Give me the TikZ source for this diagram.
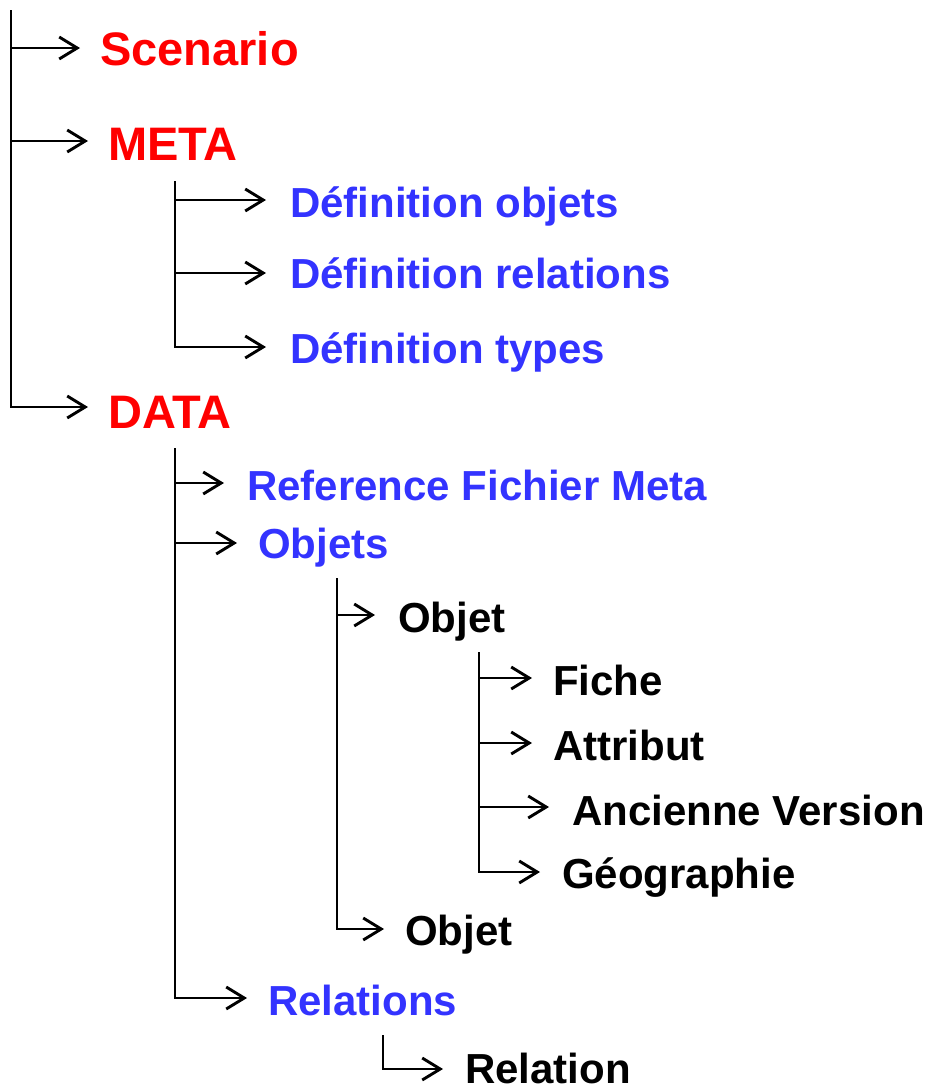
\documentclass[tikz,border=0pt]{standalone}
\usepackage{fontspec}
\setmainfont{Liberation Sans}
\usetikzlibrary{arrows.meta}
\definecolor{lblue}{RGB}{51,51,255}
\definecolor{lred}{RGB}{255,0,0}
\begin{document}
\begin{tikzpicture}[x=1pt,y=-1pt,
  lbl/.style={anchor=base west,inner sep=0pt,font=\bfseries\fontsize{42}{50}\selectfont},
  redlbl/.style={lbl,text=lred,font=\bfseries\fontsize{47}{56}\selectfont},
  bluelbl/.style={lbl,text=lblue},
  blacklbl/.style={lbl,text=black},
  tree/.style={draw=black,line width=2.9pt,line join=miter},
  arr/.style={tree,-{Straight Barb[length=18pt,width=22pt,line width=2.9pt]}}]
\useasboundingbox (0,0) rectangle (932,1087);
% labels
\node[redlbl] (scen) at (100,65) {Scenario};
\node[redlbl] (meta) at (108,160) {META};
\node[bluelbl] (dobj) at (290,217) {Définition objets};
\node[bluelbl] (drel) at (290,288) {Définition relations};
\node[bluelbl] (dtyp) at (290,363) {Définition types};
\node[redlbl] (data) at (108,428) {DATA};
\node[bluelbl] (rfm) at (247,500) {Reference Fichier Meta};
\node[bluelbl] (objs) at (258,558) {Objets};
\node[blacklbl] (obj1) at (398,632) {Objet};
\node[blacklbl] (fich) at (553,695) {Fiche};
\node[blacklbl] (attr) at (553,760) {Attribut};
\node[blacklbl] (anc) at (572,825) {Ancienne Version};
\node[blacklbl] (geo) at (562,888) {Géographie};
\node[blacklbl] (obj2) at (405,945) {Objet};
\node[bluelbl] (rels) at (268,1015) {Relations};
\node[blacklbl] (rel) at (465,1083) {Relation};
% root tree
\coordinate (r0) at (11,10);
\coordinate (rj1) at (11,48);  \coordinate (rt1) at (80,48);
\coordinate (rj2) at (11,141); \coordinate (rt2) at (88,141);
\coordinate (rj3) at (11,407); \coordinate (rt3) at (88,407);
\draw[arr] (rj1) -- (rt1);
\draw[arr] (rj2) -- (rt2);
\draw[arr] (r0) -- (rj3) -- (rt3);
% META tree
\coordinate (m0) at (175,181);
\coordinate (mj1) at (175,200); \coordinate (mt1) at (266,200);
\coordinate (mj2) at (175,273); \coordinate (mt2) at (266,273);
\coordinate (mj3) at (175,347); \coordinate (mt3) at (266,347);
\draw[arr] (mj1) -- (mt1);
\draw[arr] (mj2) -- (mt2);
\draw[arr] (m0) -- (mj3) -- (mt3);
% DATA tree
\coordinate (d0) at (175,448);
\coordinate (dj1) at (175,483); \coordinate (dt1) at (224,483);
\coordinate (dj2) at (175,543); \coordinate (dt2) at (237,543);
\coordinate (dj3) at (175,998); \coordinate (dt3) at (247,998);
\draw[arr] (dj1) -- (dt1);
\draw[arr] (dj2) -- (dt2);
\draw[arr] (d0) -- (dj3) -- (dt3);
% Objets tree
\coordinate (o0) at (337,578);
\coordinate (oj1) at (337,615); \coordinate (ot1) at (375,615);
\coordinate (oj2) at (337,929); \coordinate (ot2) at (384,929);
\draw[arr] (oj1) -- (ot1);
\draw[arr] (o0) -- (oj2) -- (ot2);
% Objet tree
\coordinate (b0) at (479,652);
\coordinate (bj1) at (479,678); \coordinate (bt1) at (532,678);
\coordinate (bj2) at (479,743); \coordinate (bt2) at (532,743);
\coordinate (bj3) at (479,807); \coordinate (bt3) at (549,807);
\coordinate (bj4) at (479,872); \coordinate (bt4) at (540,872);
\draw[arr] (bj1) -- (bt1);
\draw[arr] (bj2) -- (bt2);
\draw[arr] (bj3) -- (bt3);
\draw[arr] (b0) -- (bj4) -- (bt4);
% Relations tree
\coordinate (l0) at (383,1035);
\coordinate (lj1) at (383,1069); \coordinate (lt1) at (443,1069);
\draw[arr] (l0) -- (lj1) -- (lt1);
\end{tikzpicture}
\end{document}
